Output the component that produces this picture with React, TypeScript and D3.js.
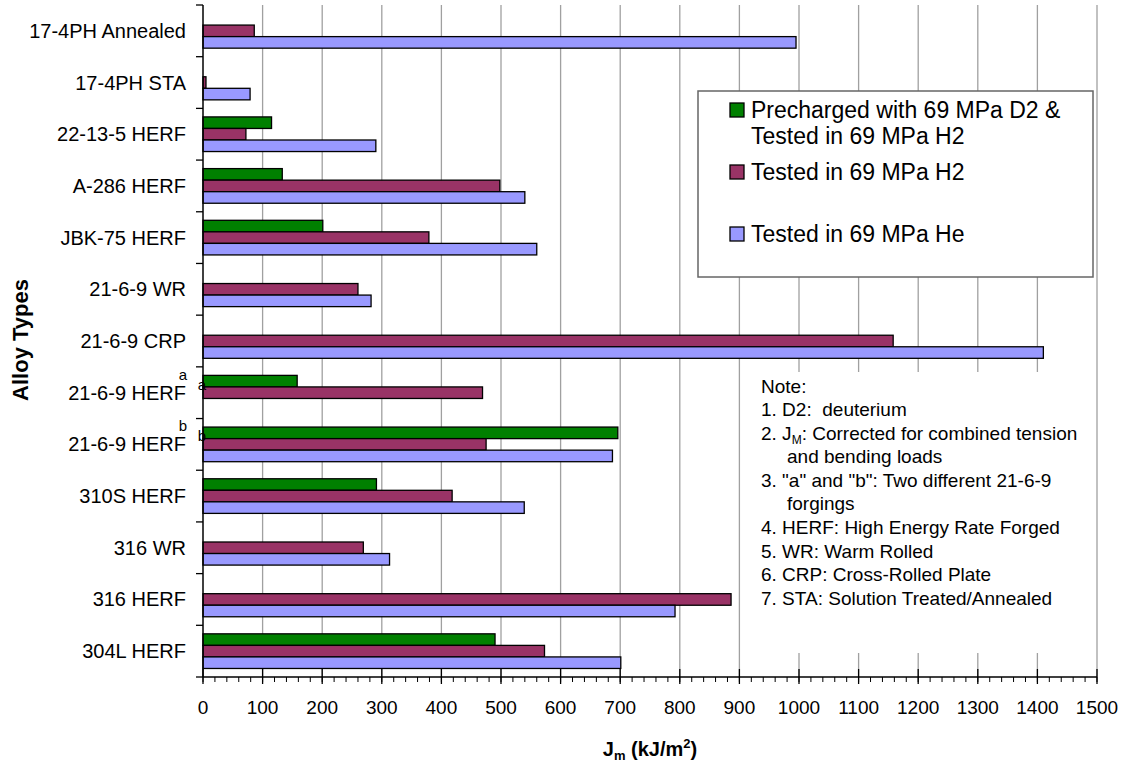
import { useMemo } from "react";
import * as d3 from "d3";

const WIDTH = 1123;
const HEIGHT = 763;
const PLOT = { left: 203, right: 1097, top: 5, bottom: 677 };
const FONT = "'Liberation Sans', Arial, Helvetica, sans-serif";

// categories from top to bottom
const categoryIds = [
  "annealed", "sta", "22-13-5", "a286", "jbk75", "wr", "crp",
  "herfA", "herfB", "310s", "316wr", "316herf", "304l",
];
const categoryLabels = [
  "17-4PH Annealed", "17-4PH STA", "22-13-5 HERF", "A-286 HERF", "JBK-75 HERF",
  "21-6-9 WR", "21-6-9 CRP", "21-6-9 HERF", "21-6-9 HERF", "310S HERF",
  "316 WR", "316 HERF", "304L HERF",
];
const categoryMarks = ["", "", "", "", "", "", "", "a", "b", "", "", "", ""];

// series values, kJ/m2 (null = not tested)
const precharged = [null, null, 115, 133, 201, null, null, 158, 696, 291, null, null, 490];
const testedH2 = [86, 5, 72, 498, 379, 260, 1158, 469, 475, 418, 269, 886, 573];
const testedHe = [995, 79, 290, 540, 560, 282, 1410, null, 687, 539, 313, 792, 701];

const seriesKeys = ["precharged", "h2", "he"];
const seriesNames = [
  ["Precharged with 69 MPa D2 &", "Tested in 69 MPa H2"],
  ["Tested in 69 MPa H2"],
  ["Tested in 69 MPa He"],
];
const COLORS = ["#008000", "#993366", "#9999FF"];

const xTicks = [0, 100, 200, 300, 400, 500, 600, 700, 800, 900, 1000, 1100, 1200, 1300, 1400, 1500];

const notes = [
  "1. D2:  deuterium",
  "2. J|M|: Corrected for combined tension",
  "    and bending loads",
  "3. \"a\" and \"b\": Two different 21-6-9",
  "    forgings",
  "4. HERF: High Energy Rate Forged",
  "5. WR: Warm Rolled",
  "6. CRP: Cross-Rolled Plate",
  "7. STA: Solution Treated/Annealed",
];

export default function App() {
  const xScale = useMemo(
    () => d3.scaleLinear().domain([0, 1500]).range([PLOT.left, PLOT.right]),
    []
  );
  const yScale = useMemo(
    () =>
      d3.scaleBand<string>()
        .domain(categoryIds)
        .range([PLOT.top, PLOT.bottom])
        .paddingInner(0.33)
        .paddingOuter(0.165),
    []
  );
  const subScale = useMemo(
    () => d3.scaleBand<string>().domain(seriesKeys).range([0, yScale.bandwidth()]),
    [yScale]
  );

  const allSeries = [precharged, testedH2, testedHe];
  const step = yScale.step();
  const groupTop = (i: number) => yScale(categoryIds[i])! - yScale.paddingOuter() * step;

  const grid = xTicks.slice(1).map((v) => (
    <line key={v} x1={xScale(v)} x2={xScale(v)} y1={PLOT.top} y2={PLOT.bottom}
      stroke="#a0a0a0" strokeWidth={1.3} />
  ));

  const bars = allSeries.map((vals, s) => (
    <g key={s}>
      {vals.map((v, i) => {
        if (v === null) return null;
        return (
          <rect key={i}
            x={xScale(0)}
            y={yScale(categoryIds[i])! + subScale(seriesKeys[s])!}
            width={xScale(v) - xScale(0)}
            height={subScale.bandwidth()}
            fill={COLORS[s]}
            stroke="#000"
            strokeWidth={1.3} />
        );
      })}
    </g>
  ));

  const minorTicks = d3.range(0, 1501, 20);

  const xAxis = (
    <g>
      <line x1={PLOT.left} x2={PLOT.right} y1={PLOT.bottom} y2={PLOT.bottom} stroke="#000" strokeWidth={1.3} />
      {minorTicks.map((v) => (
        <line key={"m" + v} x1={xScale(v)} x2={xScale(v)} y1={PLOT.bottom} y2={PLOT.bottom + 5}
          stroke="#000" strokeWidth={1} />
      ))}
      {xTicks.map((v) => (
        <g key={v}>
          <line x1={xScale(v)} x2={xScale(v)} y1={PLOT.bottom - 8} y2={PLOT.bottom + 7}
            stroke="#000" strokeWidth={1.3} />
          <text x={xScale(v)} y={PLOT.bottom + 37} textAnchor="middle" fontSize={19}>{v}</text>
        </g>
      ))}
    </g>
  );

  const yAxis = (
    <g>
      <line x1={PLOT.left} x2={PLOT.left} y1={PLOT.top} y2={PLOT.bottom} stroke="#000" strokeWidth={1.5} />
      {d3.range(categoryIds.length + 1).map((i) => (
        <line key={i} x1={PLOT.left - 7} x2={PLOT.left} y1={PLOT.top + i * step} y2={PLOT.top + i * step}
          stroke="#000" strokeWidth={1.3} />
      ))}
      {categoryLabels.map((lab, i) => {
        const cy = groupTop(i) + step / 2;
        const mark = categoryMarks[i];
        return (
          <g key={i}>
            <text x={186} y={cy + 7} textAnchor="end" fontSize={20}>{lab}</text>
            {mark && (
              <>
                <text x={183} y={cy - 13} textAnchor="middle" fontSize={15}>{mark}</text>
                <text x={202} y={cy - 3} textAnchor="middle" fontSize={15}>{mark}</text>
              </>
            )}
          </g>
        );
      })}
    </g>
  );

  const legendRows = [110, 172, 234];
  const legend = (
    <g>
      <rect x={698} y={91} width={395} height={186} fill="#fff" stroke="#666" strokeWidth={1.5} />
      {seriesNames.map((lines, s) => (
        <g key={s}>
          <rect x={730} y={legendRows[s] - 7} width={14} height={14} fill={COLORS[s]} stroke="#000" strokeWidth={1.3} />
          {lines.map((ln, k) => (
            <text key={k} x={751} y={legendRows[s] + 8 + k * 26} fontSize={23}>{ln}</text>
          ))}
        </g>
      ))}
    </g>
  );

  const noteBox = (
    <g>
      <rect x={741} y={372} width={PLOT.right - 741 - 1} height={281} fill="#fff" />
      <text x={761} y={393} fontSize={19}>Note:</text>
      {notes.map((ln, i) => {
        const y = 416 + i * 23.6;
        const indent = ln.startsWith("    ");
        const txt = ln.trim();
        const parts = txt.split("|");
        return (
          <text key={i} x={indent ? 787 : 761} y={y} fontSize={19} style={{ whiteSpace: "pre" }}>
            {parts.length === 3 ? (
              <>
                {parts[0]}
                <tspan fontSize={12} dy={4}>{parts[1]}</tspan>
                <tspan dy={-4}>{parts[2]}</tspan>
              </>
            ) : txt}
          </text>
        );
      })}
    </g>
  );

  const titles = (
    <g fontWeight="bold">
      <text x={(PLOT.left + PLOT.right) / 2} y={756} textAnchor="middle" fontSize={20}>
        J<tspan fontSize={13} dy={4}>m</tspan>
        <tspan dy={-4}> (kJ/m</tspan>
        <tspan fontSize={13} dy={-8}>2</tspan>
        <tspan dy={8}>)</tspan>
      </text>
      <text transform={`translate(28, 340) rotate(-90)`} textAnchor="middle" fontSize={22}>
        Alloy Types
      </text>
    </g>
  );

  return (
    <svg width={WIDTH} height={HEIGHT} fontFamily={FONT}
      style={{ position: "absolute", left: 0, top: 0, background: "#fff" }}>
      <rect width={WIDTH} height={HEIGHT} fill="#fff" />
      <g>{grid}</g>
      {noteBox}
      <g>{bars}</g>
      {legend}
      {xAxis}
      {yAxis}
      {titles}
    </svg>
  );
}
